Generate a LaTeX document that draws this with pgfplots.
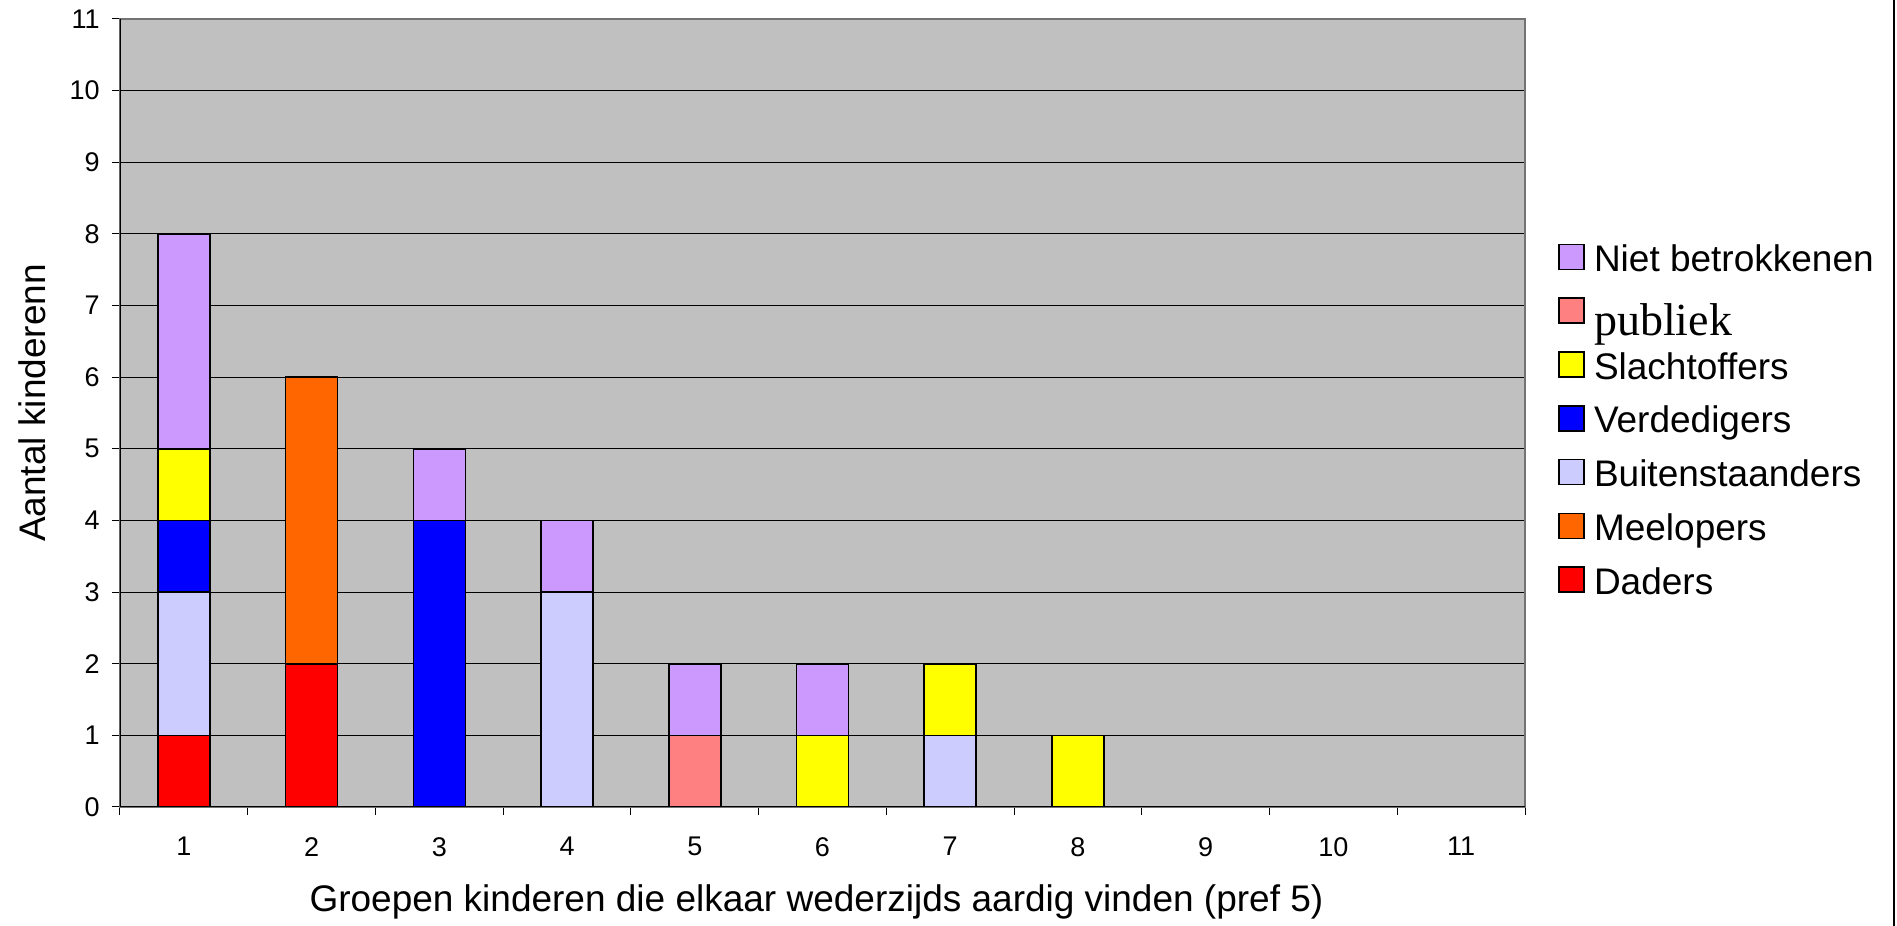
\documentclass[border=0pt]{standalone}
\usepackage{fontspec}
\setmainfont{Liberation Sans}
\newfontfamily\timesfont{Liberation Serif}
\usepackage{pgfplots}
\pgfplotsset{compat=1.18}
\definecolor{bgray}{RGB}{192,192,192}
\definecolor{cniet}{RGB}{204,153,255}
\definecolor{cpubliek}{RGB}{255,128,128}
\definecolor{cslacht}{RGB}{255,255,0}
\definecolor{cverd}{RGB}{0,0,255}
\definecolor{cbuiten}{RGB}{204,204,255}
\definecolor{cmee}{RGB}{255,102,0}
\definecolor{cdaders}{RGB}{255,0,0}
\begin{document}
\begin{tikzpicture}
\begin{axis}[name=ax, at={(0,0)}, anchor=south west,
  scale only axis, width=702.5pt, height=394pt,
  xmin=0.5, xmax=11.5, ymin=0, ymax=11,
  ybar stacked, bar width=26pt,
  axis background/.style={fill=bgray},
  axis line style={draw=black!55, line width=0.6pt},
  xtick={0.5,1.5,2.5,3.5,4.5,5.5,6.5,7.5,8.5,9.5,10.5,11.5},
  x tick label as interval,
  xticklabels={1,2,3,4,5,6,7,8,9,10,11},
  ytick={0,1,2,3,4,5,6,7,8,9,10,11},
  xtick pos=bottom, ytick pos=left,
  tick align=outside, major tick length=4pt,
  tick style={black, line width=0.5pt},
  ymajorgrids, grid style={black, line width=0.5pt},
  tick label style={font=\fontsize{13.5}{16}\selectfont, inner sep=0pt},
  xticklabel style={yshift=-11pt},
  yticklabel style={xshift=-6pt},
  /pgf/number format/assume math mode=true,
  xlabel={Groepen kinderen die elkaar wederzijds aardig vinden (pref 5)},
  ylabel={Aantal kinderenn},
  every axis x label/.style={at={(axis description cs:0.5,0)}, anchor=base, yshift=-52.5pt, xshift=-3pt, font=\fontsize{18.5}{22}\selectfont},
  every axis y label/.style={at={(axis description cs:0,0.5)}, anchor=center, xshift=-44pt, yshift=5pt, rotate=90, font=\fontsize{18.5}{22}\selectfont},
  legend style={at={(axis description cs:1,0.5)}, anchor=west, xshift=16.5pt, yshift=-5pt,
    draw=none, fill=none, inner sep=0pt, row sep=9pt,
    font=\fontsize{18.5}{22}\selectfont,
    nodes={inner sep=0pt, text height=13pt, text depth=4pt},
    /tikz/every odd column/.append style={column sep=4.5pt}},
  legend cell align=left,
  legend image code/.code={\draw[#1, line width=0.8pt] (0pt,-3.5pt) rectangle (12.5pt,9pt);},
  reverse legend,
]
\addplot[fill=cdaders, draw=black, line width=0.8pt] coordinates {(1,1) (2,2) (3,0) (4,0) (5,0) (6,0) (7,0) (8,0)};
\addlegendentry{Daders}
\addplot[fill=cmee, draw=black, line width=0.8pt] coordinates {(1,0) (2,4) (3,0) (4,0) (5,0) (6,0) (7,0) (8,0)};
\addlegendentry{Meelopers}
\addplot[fill=cbuiten, draw=black, line width=0.8pt] coordinates {(1,2) (2,0) (3,0) (4,3) (5,0) (6,0) (7,1) (8,0)};
\addlegendentry{Buitenstaanders}
\addplot[fill=cverd, draw=black, line width=0.8pt] coordinates {(1,1) (2,0) (3,4) (4,0) (5,0) (6,0) (7,0) (8,0)};
\addlegendentry{Verdedigers}
\addplot[fill=cslacht, draw=black, line width=0.8pt] coordinates {(1,1) (2,0) (3,0) (4,0) (5,0) (6,1) (7,1) (8,1)};
\addlegendentry{Slachtoffers}
\addplot[fill=cpubliek, draw=black, line width=0.8pt] coordinates {(1,0) (2,0) (3,0) (4,0) (5,1) (6,0) (7,0) (8,0)};
\addlegendentry{\raisebox{-5pt}{\timesfont\fontsize{23}{26}\selectfont publiek}}
\addplot[fill=cniet, draw=black, line width=0.8pt] coordinates {(1,3) (2,0) (3,1) (4,1) (5,1) (6,1) (7,0) (8,0)};
\addlegendentry{Niet betrokkenen}
\draw[black, line width=0.6pt] (rel axis cs:0,0) -- (rel axis cs:0,1);
\draw[black, line width=0.6pt] (rel axis cs:0,0) -- (rel axis cs:1,0);
\end{axis}
\draw[black, line width=1pt] ([shift={(887pt,-59.5pt)}]ax.south west) -- ([shift={(887pt,403.5pt)}]ax.south west);
\pgfresetboundingbox
\path ([shift={(-60pt,-59.5pt)}]ax.south west) rectangle ([shift={(888.5pt,403.5pt)}]ax.south west);
\end{tikzpicture}
\end{document}
